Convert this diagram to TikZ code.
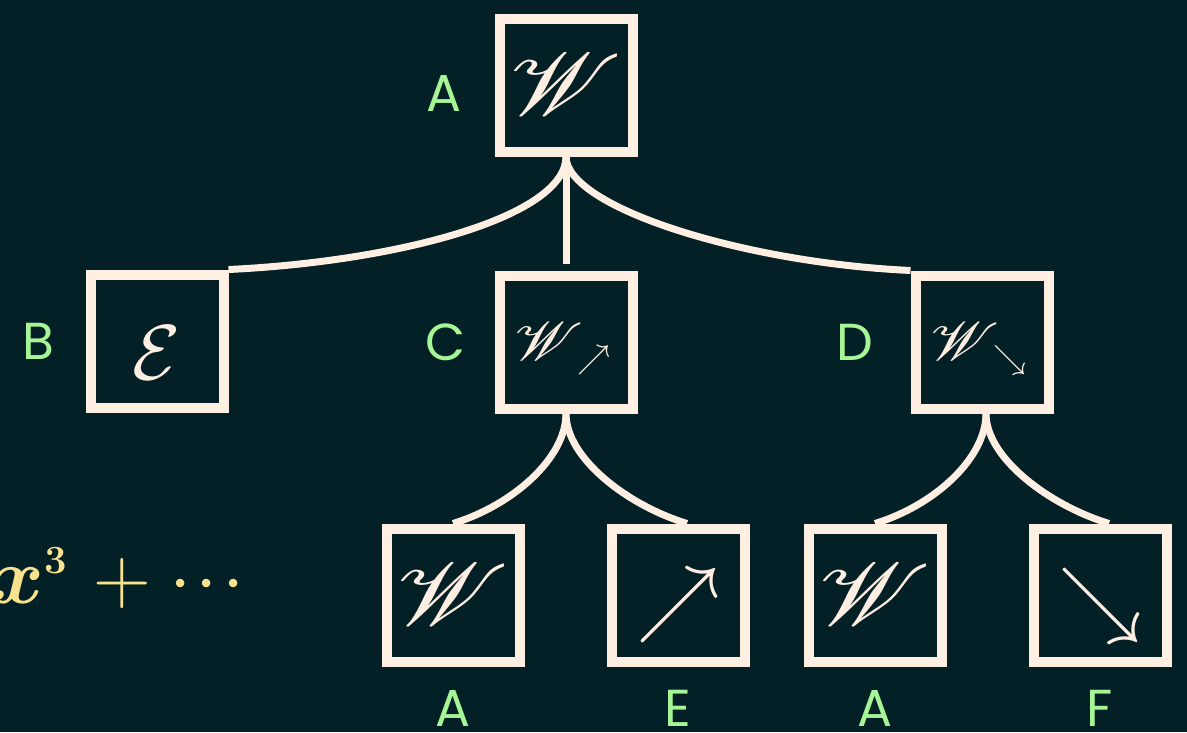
\RequirePackage{fix-cm}
\documentclass[tikz,border=0pt]{standalone}
\usepackage{graphicx}
\usepackage{amsmath}
\usepackage{mathrsfs}
\DeclareFontFamily{U}{rsfs}{\skewchar\font127 }
\DeclareFontShape{U}{rsfs}{m}{n}{<->rsfs10}{}
\DeclareMathSizes{54}{54}{33}{24}
\DeclareMathSizes{80}{80}{40}{30}
\usepackage{fontspec}
\newfontfamily\tagfont{Poppins}
\usetikzlibrary{positioning}

\definecolor{bgteal}{RGB}{2,32,37}
\definecolor{cream}{RGB}{255,238,226}
\definecolor{mint}{RGB}{166,245,150}
\definecolor{butter}{RGB}{248,226,142}

% wide script W, and a way to drop a glyph without moving its box
\newcommand{\scrW}{\scalebox{1.19}[1]{$\mathscr{W}$}}
\newcommand{\dropby}[2]{\raisebox{-#1}[\height][\depth]{#2}}

\begin{document}
\begin{tikzpicture}[x=1pt,y=1pt,on grid,every node/.style={inner sep=0pt}]
  % square tiles, letters beside them in green
  \tikzstyle{tile}=[rectangle,draw=cream,line width=10pt,minimum size=133pt,text=cream]
  \tikzstyle{tileW}=[tile,font=\fontsize{88}{96}\selectfont]
  \tikzstyle{tileArrow}=[tile,font=\fontsize{84}{92}\selectfont]
  \tikzstyle{tileSub}=[tile,font=\fontsize{54}{60}\selectfont]
  \tikzstyle{tag}=[text=mint,font=\tagfont\fontsize{52}{60}\selectfont]
  \tikzstyle{link}=[draw=cream,line width=7pt]

  \useasboundingbox (0,0) rectangle (1187,-732);
  \fill[bgteal] (0,0) rectangle (1187,-732);

  \node[tileW]  (w_0) at (566,-85) {\scrW};
  \node[tile,font=\fontsize{78}{86}\selectfont] (e_0) [below left=256pt and 409pt of w_0] {\dropby{12pt}{$\mathcal{E}$}};
  \node[tileSub]  (w_ne) [below=257pt of w_0] {\dropby{7pt}{\scrW\kern-6pt$_{\nearrow}$}\kern6pt};
  \node[tileSub]  (w_se) [below right=257pt and 416pt of w_0] {\dropby{7pt}{\scrW\kern-6pt$_{\searrow}$}\kern6pt};
  \node[tileW]  (w_1) [below left=253pt and 113pt of w_ne] {\scrW};
  \node[tileArrow]  (ne_0) [below right=253pt and 112pt of w_ne] {\dropby{10pt}{$\nearrow$}};
  \node[tileW]  (w_2) [below left=253pt and 107pt of w_se] {\scrW};
  \node[tileArrow]  (se_0) [below right=253pt and 118pt of w_se] {\dropby{10pt}{$\searrow$}};

  \node[tag] (t_w0) [below left=8pt and 122pt of w_0] {A};
  \node[tag] (t_e0) [left=119pt of e_0] {B};
  \node[tag] (t_ne) [left=120pt of w_ne] {C};
  \node[tag] (t_se) [left=127pt of w_se] {D};
  \node[tag] (t_w1) [below=113pt of w_1] {A};
  \node[tag] (t_n1) [below=113pt of ne_0] {E};
  \node[tag] (t_w2) [below=113pt of w_2] {A};
  \node[tag] (t_s1) [below=113pt of se_0] {F};

  \node[text=butter,font=\fontsize{80}{88}\selectfont,anchor=base east] (tail) at (245,-603)
    {$\boldsymbol{x}^{\boldsymbol{3}}\mkern2mu+{\cdot}\mkern1mu{\cdot}\mkern1mu{\cdot}$};

  \draw[link] (w_0.south) .. controls +(0,-60) and +(170,8) .. (e_0.north east);
  \draw[link,shorten >=7pt] (w_0.south) -- (w_ne.north);
  \draw[link] (w_0.south) .. controls +(0,-50) and +(-170,8) .. (w_se.north west);
  \draw[link] (w_ne.south) .. controls +(0,-45) and +(59,18) .. (w_1.north);
  \draw[link] (w_ne.south) .. controls +(0,-45) and +(-59,18) .. ([xshift=9pt]ne_0.north);
  \draw[link] ([xshift=4pt]w_se.south) .. controls +(0,-45) and +(59,18) .. (w_2.north);
  \draw[link] ([xshift=4pt]w_se.south) .. controls +(0,-45) and +(-59,18) .. ([xshift=9pt]se_0.north);
\end{tikzpicture}
\end{document}
